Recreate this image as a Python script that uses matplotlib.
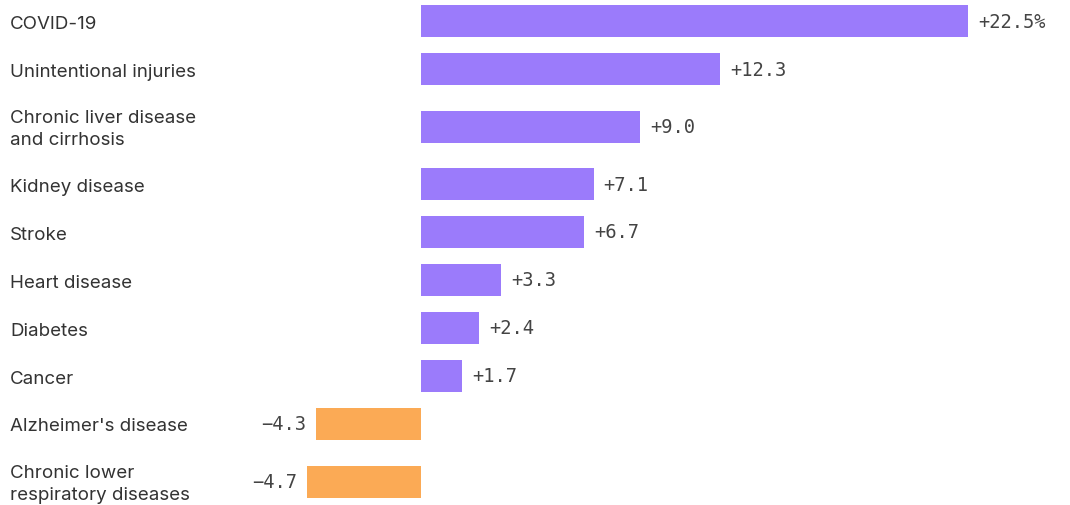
import matplotlib.pyplot as plt

# data
causes = ["COVID-19", "Unintentional injuries", "Chronic liver disease\nand cirrhosis",
          "Kidney disease", "Stroke", "Heart disease", "Diabetes", "Cancer",
          "Alzheimer's disease", "Chronic lower\nrespiratory diseases"]
change = [22.5, 12.3, 9.0, 7.1, 6.7, 3.3, 2.4, 1.7, -4.3, -4.7]
value_labels = ["+22.5%", "+12.3", "+9.0", "+7.1", "+6.7", "+3.3", "+2.4", "+1.7", "\u22124.3", "\u22124.7"]

purple = "#9b7bfb"
orange = "#fbaa55"

# row heights in pixels: two-line labels get a taller row
rows = [67 if "\n" in c else 48 for c in causes]
centers = []
top = -2
for h in rows:
    centers.append(top + h / 2)
    top += h

fig = plt.figure(figsize=(10.7, 5.06), dpi=100)
ax = fig.add_axes([0, 0, 1, 1])
px = 24.31  # pixels per percentage point
ax.set_xlim(-421 / px, (1070 - 421) / px)
ax.set_ylim(506, 0)
ax.axis("off")

colors = [purple if v > 0 else orange for v in change]
ax.barh(centers, change, height=32, color=colors)

for y, v, lab, name in zip(centers, change, value_labels, causes):
    if v > 0:
        ax.text(v + 10 / px, y, lab, va="center", ha="left", fontsize=13.5,
                family="DejaVu Sans Mono", color="#444444")
    else:
        ax.text(v - 10 / px, y, lab, va="center", ha="right", fontsize=13.5,
                family="DejaVu Sans Mono", color="#444444")
    ax.text(10 / 1070, y + 2, name, transform=ax.get_yaxis_transform(),
            va="center", ha="left", fontsize=13.5, family="Inter",
            color="#333333", linespacing=1.35)

fig.savefig("out.png", dpi=100)
